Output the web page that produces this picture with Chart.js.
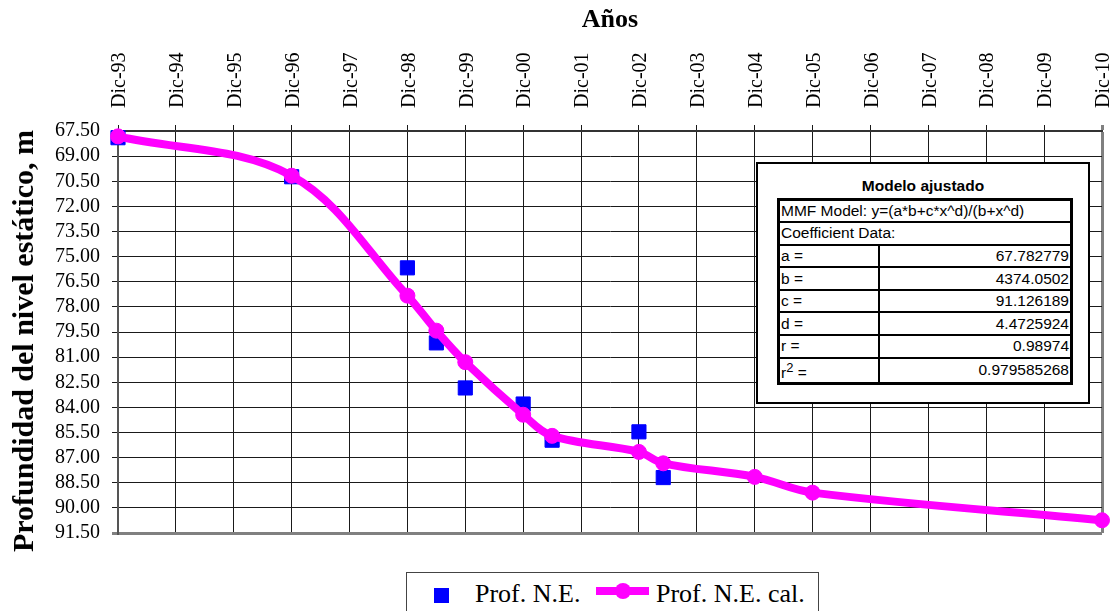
<!DOCTYPE html>
<html>
<head>
<meta charset="utf-8">
<script src="https://cdn.jsdelivr.net/npm/chart.js@4.4.0/dist/chart.umd.min.js"></script>
<style>
    body { margin: 0; background: #fff; }
    #wrap { position: relative; width: 1113px; height: 611px; overflow: hidden; }
    #ytitle {
        position: absolute; left: 23px; top: 341px; white-space: nowrap;
        transform: translate(-50%, -50%) rotate(-90deg);
        font-family: 'Liberation Serif', 'Times New Roman', serif; font-size: 30px; font-weight: bold;
        line-height: 34px; color: #000;
    }
    #modelo {
        position: absolute; left: 756px; top: 162px; width: 334px; height: 242px;
        box-sizing: border-box; border: 2px solid #000; background: #fff;
        font-family: 'Liberation Sans', Arial, sans-serif; color: #000;
    }
    #modelo .titulo {
        position: absolute; top: 13px; left: 0; right: 0; text-align: center;
        font-size: 15.5px; font-weight: bold;
    }
    #modelo table {
        position: absolute; left: 19px; top: 34px; width: 296px;
        border-collapse: collapse; border: 3px solid #000; font-size: 15.5px;
    }
    #modelo td { border: 2px solid #000; padding: 0 1px; line-height: 18px; }
    #modelo tr { height: 22.6px; }
    #modelo td.v { text-align: right; }
    #legend {
        position: absolute; left: 406px; top: 572px; width: 413px; height: 50px;
        box-sizing: border-box; border: 1px solid #444; background: #fff;
        font-family: 'Liberation Serif', 'Times New Roman', serif; font-size: 26px;
    }
    #legend span { position: absolute; top: 6px; line-height: 30px; white-space: nowrap; }
    #legend .sq { position: absolute; left: 27px; top: 15px; width: 15px; height: 15px; background: #0000ff; }
    #legend .ln { position: absolute; left: 189px; top: 14px; width: 53px; height: 8px; background: #ff00ff; }
    #legend .dot { position: absolute; left: 208px; top: 10px; width: 16px; height: 16px; border-radius: 50%; background: #ff00ff; }
</style>
</head>
<body>
<div id="wrap">
    <canvas id="chart" width="1113" height="611"></canvas>
    <div id="ytitle">Profundidad del nivel estático, m</div>
    <div id="modelo">
        <div class="titulo">Modelo ajustado</div>
        <table id="coef"></table>
    </div>
    <div id="legend">
        <div class="sq"></div><span style="left:68px">Prof. N.E.</span>
        <div class="ln"></div><div class="dot"></div><span style="left:249px">Prof. N.E. cal.</span>
    </div>
</div>
<script>
// etiquetas del eje superior (años)
const xLabels = ['Dic-93', 'Dic-94', 'Dic-95', 'Dic-96', 'Dic-97', 'Dic-98', 'Dic-99', 'Dic-00', 'Dic-01',
    'Dic-02', 'Dic-03', 'Dic-04', 'Dic-05', 'Dic-06', 'Dic-07', 'Dic-08', 'Dic-09', 'Dic-10'];

// profundidad medida (años desde Dic-93)
const obsYears = [0, 3, 5, 5.5, 6, 7, 7.5, 9, 9.42];
const obsDepth = [67.9, 70.23, 75.67, 80.15, 82.84, 83.8, 85.96, 85.46, 88.19];

// profundidad calculada con el modelo
const calYears = [0, 3, 5, 5.5, 6, 7, 7.5, 9, 9.42, 11, 12, 17];
const calDepth = [67.82, 70.17, 77.33, 79.42, 81.3, 84.44, 85.7, 86.66, 87.34, 88.15, 89.09, 90.74];

// tabla del modelo ajustado
const modelText = 'MMF Model: y=(a*b+c*x^d)/(b+x^d)';
const coefNames = ['a =', 'b =', 'c =', 'd =', 'r =', 'r<sup>2</sup> ='];
const coefValues = ['67.782779', '4374.0502', '91.126189', '4.4725924', '0.98974', '0.979585268'];

const yMin = 67.5, yMax = 91.5, yStep = 1.5;

// build the coefficient table
let rows = '<tr><td colspan="2">' + modelText + '</td></tr><tr><td colspan="2">Coefficient Data:</td></tr>';
coefNames.forEach((n, i) => {
    rows += '<tr><td style="width:96px">' + n + '</td><td class="v">' + coefValues[i] + '</td></tr>';
});
document.getElementById('coef').innerHTML = rows;

const serif = "'Liberation Serif', 'Times New Roman', serif";

function toPoints(xs, ys) {
    return xs.map((x, i) => ({ x: x, y: ys[i] }));
}

const ctx = document.getElementById('chart').getContext('2d');
const chart = new Chart(ctx, {
    type: 'line',
    data: {
        datasets: [
            {
                label: 'Prof. N.E.',
                data: toPoints(obsYears, obsDepth),
                showLine: false,
                pointStyle: 'rect',
                pointRadius: 10,
                pointBackgroundColor: '#0000ff',
                pointBorderColor: '#0000ff',
                pointBorderWidth: 1,
                order: 2,
                clip: false,
            },
            {
                label: 'Prof. N.E. cal.',
                data: toPoints(calYears, calDepth),
                borderColor: '#ff00ff',
                borderWidth: 8,
                tension: 0.35,
                pointStyle: 'circle',
                pointRadius: 7.5,
                pointBackgroundColor: '#ff00ff',
                pointBorderColor: '#ff00ff',
                pointBorderWidth: 1,
                order: 1,
                clip: false,
            }
        ]
    },
    options: {
        responsive: false,
        animation: false,
        layout: { padding: { left: 0, top: 0, right: 9, bottom: 78 } },
        plugins: {
            legend: { display: false },
            tooltip: { enabled: false },
        },
        scales: {
            x: {
                type: 'linear',
                position: 'top',
                min: 0,
                max: xLabels.length - 1,
                afterFit: function (scale) {
                    scale.height = 131;
                    scale.paddingLeft = 0;
                    scale.paddingRight = 0;
                },
                ticks: {
                    stepSize: 1,
                    autoSkip: false,
                    minRotation: 90,
                    maxRotation: 90,
                    padding: 17,
                    labelOffset: 26,
                    color: '#000',
                    font: { family: serif, size: 20 },
                    callback: function (value) { return xLabels[value]; }
                },
                grid: {
                    color: ctx => ctx.index === xLabels.length - 1 ? '#808080' : '#1a1a1a',
                    lineWidth: ctx => ctx.index === xLabels.length - 1 ? 3 : 1,
                    tickLength: 6,
                },
                border: { color: '#333', width: 2 },
                title: {
                    display: true,
                    text: 'Años',
                    color: '#000',
                    padding: { top: 5, bottom: 0 },
                    font: { family: serif, size: 26, weight: 'bold' },
                }
            },
            y: {
                reverse: true,
                min: yMin,
                max: yMax,
                afterFit: function (scale) { scale.width = 118; },
                ticks: {
                    stepSize: yStep,
                    autoSkip: false,
                    padding: 12,
                    color: '#000',
                    font: { family: serif, size: 20 },
                    callback: function (value) { return value.toFixed(2); }
                },
                grid: {
                    color: ctx => ctx.tick && ctx.tick.value === yMax ? '#808080' : '#1a1a1a',
                    lineWidth: ctx => ctx.tick && ctx.tick.value === yMax ? 3 : 1,
                    tickLength: 6,
                },
                border: { color: '#555', width: 2 },
                title: { display: false }
            }
        }
    }
});
</script>
</body>
</html>
